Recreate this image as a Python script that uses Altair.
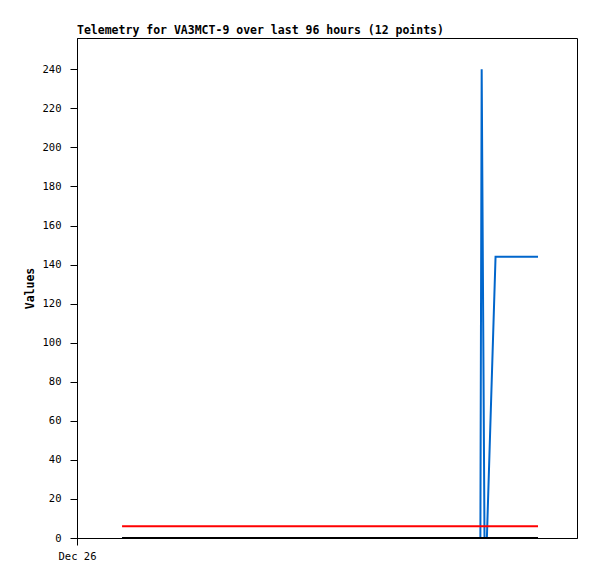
import altair as alt
import pandas as pd

# Blue series (timestamps UTC, values)
blue_t = ["2023-12-26T10:24:00", "2023-12-29T21:06:00", "2023-12-29T21:24:00",
          "2023-12-29T22:03:00", "2023-12-29T22:36:00", "2023-12-30T00:36:00",
          "2023-12-30T10:24:00"]
blue_v = [0, 0, 240, 0, 0, 144, 144]

red_t = ["2023-12-26T10:24:00", "2023-12-30T10:24:00"]
red_v = [6, 6]

black_t = ["2023-12-26T10:24:00", "2023-12-30T10:24:00"]
black_v = [0, 0]

y_ticks = list(range(0, 241, 20))

title = "Telemetry for VA3MCT-9 over last 96 hours (12 points)"

def frame(t, v):
    return pd.DataFrame({"t": t, "v": v})

x_enc = alt.X("t:T",
              scale=alt.Scale(type="utc", domain=[alt.DateTime(year=2023, month=12, date=26, utc=True),
                                                  alt.DateTime(year=2023, month=12, date=30, hours=19, minutes=24, utc=True)]),
              axis=alt.Axis(title=None, values=[alt.DateTime(year=2023, month=12, date=26, utc=True)],
                            labelExpr="utcFormat(datum.value, '%b %d')", labelFlush=False,
                            tickSize=7, labelPadding=6, grid=False,
                            domainColor="black", tickColor="black",
                            labelFont="DejaVu Sans Mono", labelFontSize=10.5, labelColor="black"))
y_enc = alt.Y("v:Q",
              scale=alt.Scale(domain=[0, 256], nice=False, zero=True),
              axis=alt.Axis(title="Values", values=y_ticks, tickSize=7, labelPadding=9,
                            grid=False, domainColor="black", tickColor="black",
                            labelFont="DejaVu Sans Mono", labelFontSize=10.5, labelColor="black",
                            titleFont="DejaVu Sans Mono", titleFontSize=11.5, titleFontWeight="bold",
                            titleColor="black", titlePadding=7))

def line(df, color):
    return alt.Chart(df).mark_line(color=color, strokeWidth=2, strokeCap="butt").encode(
        x=x_enc, y=y_enc)

chart = alt.layer(
    line(frame(blue_t, blue_v), "#0066cc"),
    line(frame(red_t, red_v), "#ff0000"),
    line(frame(black_t, black_v), "#000000"),
).properties(
    width=500, height=500,
    title=alt.TitleParams(title, anchor="start", frame="group", font="DejaVu Sans Mono", fontSize=11.5,
                          fontWeight="bold", color="black", offset=2),
    autosize=alt.AutoSizeParams(type="none"),
    padding={"left": 69, "top": 30, "right": 12, "bottom": 33},
    background="white",
).configure_view(stroke="black", strokeWidth=1)

chart.save("out.html", embed_options={"renderer": "svg", "actions": False})
